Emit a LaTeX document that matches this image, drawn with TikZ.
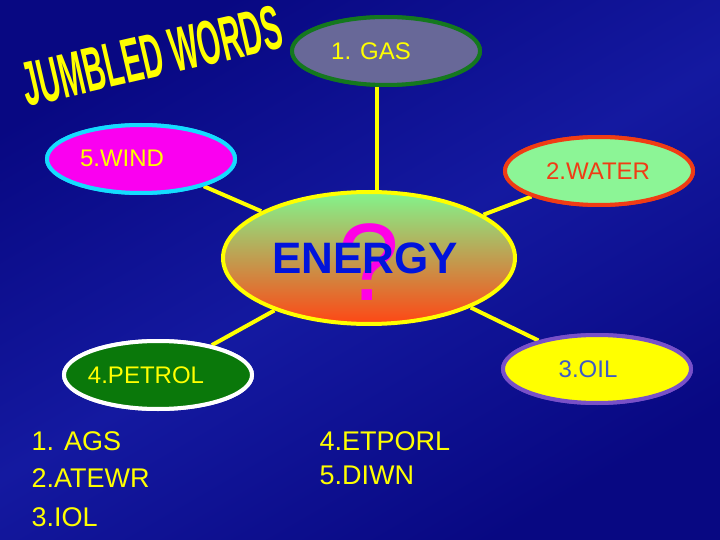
\documentclass[tikz,border=0pt]{standalone}
\usepackage{fontspec}
\setmainfont{Liberation Sans}
\usetikzlibrary{shapes.geometric}
\definecolor{bg}{RGB}{8,8,130}
\definecolor{bgl}{RGB}{20,25,160}
\definecolor{yel}{RGB}{255,255,0}
\definecolor{gasfill}{RGB}{104,104,152}
\definecolor{gasline}{RGB}{20,120,30}
\definecolor{windfill}{RGB}{250,0,240}
\definecolor{windline}{RGB}{20,220,255}
\definecolor{watfill}{RGB}{140,245,150}
\definecolor{watline}{RGB}{240,60,20}
\definecolor{petfill}{RGB}{10,120,10}
\definecolor{oilline}{RGB}{120,80,200}
\definecolor{oiltext}{RGB}{60,90,200}
\definecolor{engreen}{RGB}{130,245,140}
\definecolor{enmid}{RGB}{205,170,120}
\definecolor{enred}{RGB}{255,70,20}
\begin{document}
\begin{tikzpicture}[x=1pt,y=-1pt,
  leaf/.style={ellipse,minimum width=188pt,minimum height=68pt,line width=4pt,inner sep=0pt,font=\fontsize{24}{28}\selectfont},
  lbl/.style={font=\fontsize{24}{28}\selectfont},
  link/.style={draw=yel,line width=4pt},
  list/.style={anchor=west,text=yel,font=\fontsize{27}{30}\selectfont}]
\useasboundingbox (0,0) rectangle (720,540);
\shade[top color=bg,bottom color=bg,middle color=bgl,shading angle=30] (0,0) rectangle (720,540);
\node[rotate=13,xscale=0.78,yscale=1.65,text=yel,font=\bfseries\fontsize{38}{42}\selectfont] (title) at (152,56) {JUMBLED WORDS};
\node[ellipse,minimum width=296pt,minimum height=136pt,inner sep=0pt] (en) at (369,258) {};
\coordinate (gtop) at (377,85);
\coordinate (gbot) at (377,195);
\node[leaf,fill=gasfill,draw=gasline] (gas) at (386,51) {};
\node[leaf,fill=windfill,draw=windline] (wind) at (141,159) {};
\node[leaf,fill=watfill,draw=watline] (wat) at (599,171) {};
\node[leaf,fill=petfill,draw=white] (pet) at (158,375) {};
\node[leaf,fill=yel,draw=oilline] (oil) at (597,369) {};
\draw[link] (gtop) -- (gbot);
\draw[link] (wind) -- (en);
\draw[link] (wat) -- (en);
\draw[link] (pet) -- (en);
\draw[link] (oil) -- (en);
\node[leaf,fill=gasfill,draw=gasline] at (386,51) {};
\node[leaf,fill=windfill,draw=windline] at (141,159) {};
\node[leaf,fill=watfill,draw=watline] at (599,171) {};
\node[leaf,fill=petfill,draw=white] at (158,375) {};
\node[leaf,fill=yel,draw=oilline] at (597,369) {};
\node[lbl,text=yel] (tgas) at (371,51) {1. GAS};
\node[lbl,text=yel] (twind) at (122,158) {5.WIND};
\node[lbl,text=watline] (twat) at (598,171) {2.WATER};
\node[lbl,text=yel] (tpet) at (146,375) {4.PETROL};
\node[lbl,text=oiltext] (toil) at (588,369) {3.OIL};
\shade[top color=engreen,middle color=enmid,bottom color=enred,draw=yel,line width=4pt] (en.center) ellipse [x radius=146pt,y radius=66pt];
\node[text={rgb,255:red,255;green,0;blue,230},font=\fontsize{110}{110}\selectfont] (q) at (369,262) {?};
\node[text={rgb,255:red,0;green,20;blue,220},font=\bfseries\fontsize{44}{50}\selectfont] (w) at (365,258) {ENERGY};
\node[list] (l1) at (28,441) {1. AGS};
\node[list] (l2) at (28,478) {2.ATEWR};
\node[list] (l3) at (28,517) {3.IOL};
\node[list] (l4) at (316,441) {4.ETPORL};
\node[list] (l5) at (316,475) {5.DIWN};
\end{tikzpicture}
\end{document}
